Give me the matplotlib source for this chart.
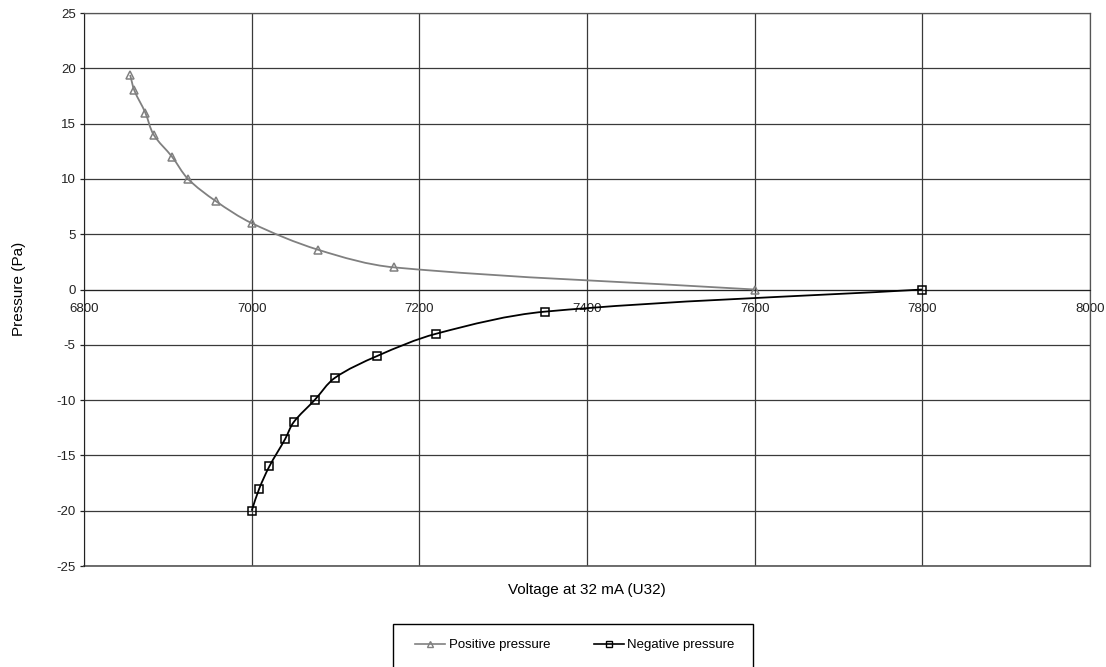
import numpy as np
import matplotlib.pyplot as plt
from matplotlib.path import Path
from matplotlib.patches import PathPatch, Rectangle
from matplotlib.lines import Line2D

plt.rcParams['font.family'] = ['Liberation Sans', 'DejaVu Sans']
plt.rcParams['axes.unicode_minus'] = False

# data
pos_voltage = [6855, 6860, 6873, 6883, 6905, 6924, 6957, 7000, 7079, 7170, 7600]
pos_pressure = [19.4, 18, 16, 14, 12, 10, 8, 6, 3.6, 2, 0]

neg_voltage = [7000, 7009, 7021, 7040, 7050, 7075, 7099, 7150, 7220, 7350, 7800]
neg_pressure = [-20, -18, -16, -13.5, -12, -10, -8, -6, -4, -2, 0]

x_ticks = [6800, 7000, 7200, 7400, 7600, 7800, 8000]
y_ticks = [-25, -20, -15, -10, -5, 0, 5, 10, 15, 20, 25]

W, H = 1106, 667
fig = plt.figure(figsize=(W / 100, H / 100), dpi=100)
ax = fig.add_axes([0.076, 0.1514, 0.9095, 0.8291])
ax.set_xlim(6800, 8000)
ax.set_ylim(-25, 25)

# px per data unit, so the smoothing is weighted like a screen-space curve
sx = 0.9095 * W / 1200.0
sy = 0.8291 * H / 50.0


def smooth_path(xs, ys):
    # smoothed line: cubic bezier, tangents from neighbours, scaled by chord length
    pts = np.column_stack([xs, ys]).astype(float)
    scr = pts * [sx, sy]
    n = len(pts)

    verts = [pts[0]]
    codes = [Path.MOVETO]
    for i in range(n - 1):
        seg = scr[i + 1] - scr[i]
        d = np.linalg.norm(seg)
        if i > 0:
            d_prev = np.linalg.norm(scr[i] - scr[i - 1])
            t1 = (scr[i + 1] - scr[i - 1]) * d / (d_prev + d) / 3
        else:
            t1 = seg / 3
        if i + 2 < n:
            d_next = np.linalg.norm(scr[i + 2] - scr[i + 1])
            t2 = (scr[i + 2] - scr[i]) * d / (d + d_next) / 3
        else:
            t2 = seg / 3
        c1 = (scr[i] + t1) / [sx, sy]
        c2 = (scr[i + 1] - t2) / [sx, sy]
        verts += [c1, c2, pts[i + 1]]
        codes += [Path.CURVE4] * 3
    return Path(verts, codes)


ax.set_xticks(x_ticks)
ax.set_yticks(y_ticks)
ax.grid(True, color='#3a3a3a', linewidth=0.9)
ax.set_axisbelow(True)

for side in ['top', 'right']:
    ax.spines[side].set_color('#555555')
    ax.spines[side].set_linewidth(0.9)
ax.spines['left'].set_color('#222222')
ax.spines['bottom'].set_position(('data', 0))
ax.spines['bottom'].set_color('#222222')

# frame line at the bottom of the plot area
ax.axhline(-25, color='#555555', linewidth=1.2, clip_on=False)

ax.tick_params(axis='y', direction='out', length=3, width=0.9, labelsize=9.5, colors='#222222', pad=3)
ax.tick_params(axis='x', length=0, labelsize=9.5, colors='#222222', pad=10)

# curves
ax.add_patch(PathPatch(smooth_path(pos_voltage, pos_pressure), facecolor='none',
                       edgecolor='#808080', linewidth=1.3, zorder=3))
ax.add_patch(PathPatch(smooth_path(neg_voltage, neg_pressure), facecolor='none',
                       edgecolor='black', linewidth=1.3, zorder=3))

ax.plot(pos_voltage, pos_pressure, linestyle='none', marker='^', markersize=6.3,
        markerfacecolor='none', markeredgecolor='#808080', markeredgewidth=1.1, zorder=4)
ax.plot(neg_voltage, neg_pressure, linestyle='none', marker='s', markersize=5.4,
        markerfacecolor='none', markeredgecolor='black', markeredgewidth=1.1, zorder=4)

fig.text(0.531, 0.115, 'Voltage at 32 mA (U32)', ha='center', va='center', fontsize=11)
fig.text(0.017, 0.567, 'Pressure (Pa)', ha='center', va='center', rotation=90, fontsize=11)

handles = [
    Line2D([], [], color='#808080', linewidth=1.2, marker='^', markersize=5,
           markerfacecolor='none', markeredgecolor='#808080'),
    Line2D([], [], color='black', linewidth=1.2, marker='s', markersize=5,
           markerfacecolor='none', markeredgecolor='black'),
]
fig.legend(handles, ['Positive pressure', 'Negative pressure'], ncol=2,
           loc='center', bbox_to_anchor=(575 / W, 1 - 645 / H), fontsize=9.5,
           frameon=False, handlelength=2.3, columnspacing=3.3, borderpad=0,
           handletextpad=0.25, borderaxespad=0)
fig.patches.append(Rectangle((393 / W, 1 - 672 / H), 360 / W, 48 / H,
                             transform=fig.transFigure, fill=False,
                             edgecolor='black', linewidth=1.0))

fig.savefig('out.png', dpi=100)
